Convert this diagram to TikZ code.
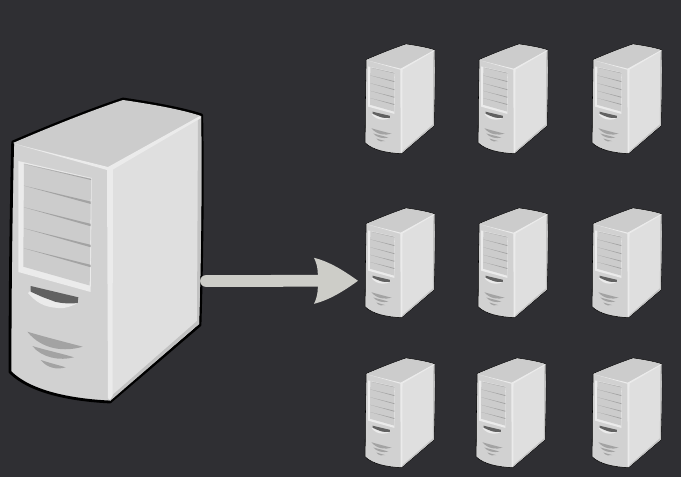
\documentclass[tikz,border=0pt]{standalone}
\usetikzlibrary{positioning,calc}
\definecolor{bgdark}{HTML}{2F2F33}
\definecolor{arrowgrey}{HTML}{CDCDC8}
\tikzset{
 pics/server/.style={code={
  % body with outline
  \draw[black,line width=#1,line join=round,fill=sfront] (12.7,142) .. controls (50,126) and (90,110) .. (123,99) .. controls (150,103) and (180,108) .. (201.7,115) .. controls (203,180) and (202,260) .. (200,325) -- (110,402) .. controls (70,400) and (30,392) .. (10,372) .. controls (10,290) and (11,210) .. (12.7,142) -- cycle;
  % top and side
  \fill[stop] (13,143) .. controls (50,127) and (90,111) .. (123,100) .. controls (150,104) and (180,109) .. (201,116) -- (108,168) -- cycle;
  \fill[sside] (108,168) -- (201,116) .. controls (202,180) and (201,260) .. (199,324) -- (110,400) -- cycle;
  \fill[sedge] (201,116) .. controls (202,180) and (201,260) .. (199,324) -- (197,322) -- (198,120) -- cycle;
  \fill[sedge] (199,324) -- (110,401) -- (109,398) -- (197,321) -- cycle;
  % highlights
  \fill[slight] (15,144) -- (108,167) -- (200,116) -- (201,118) -- (113,169.5) -- (112.5,396) -- (110,400) -- (108,398) -- (107,170) -- cycle;
  % drive bay
  \fill[slight] (18.3,161) -- (91.7,178) -- (90.7,292) -- (18.3,272) -- cycle;
  \fill[stop] (24,163.5) -- (91,178.5) -- (89.7,285.5) -- (23.3,266.7) -- cycle;
  \fill[svent] (24,164) -- (91,179) -- (91,180) -- cycle;
  \foreach \ya/\yb in {185.7/202.7,207.3/225,228.3/246,248.3/266}
   \fill[svent] (24,\ya) -- (90.5,\yb-1.2) -- (90.5,\yb+1.2) -- cycle;
  % slot
  \fill[slight] (28,293) .. controls (36,302) and (43,307) .. (58,308) .. controls (65,309) and (72,306) .. (78,303) -- (55,300) -- (31,290) -- cycle;
  \fill[sslot] (30.7,286) -- (78.3,297.3) -- (77.7,303) .. controls (68,304) and (60,303) .. (55,301.7) .. controls (48,299) and (45,298) .. (41.7,296.7) -- (30.7,291.7) -- cycle;
  % vents
  \fill[svent] (27.3,331.7) .. controls (45,337) and (65,342) .. (82.7,346.7) .. controls (65,352) and (42,350) .. (27.3,331.7) -- cycle;
  \fill[svent] (32.3,346) .. controls (45,350) and (60,353) .. (74,357.3) .. controls (60,361) and (42,358) .. (32.3,346) -- cycle;
  \fill[svent] (40.7,360) .. controls (50,363) and (58,365) .. (65.7,367.3) .. controls (57,370) and (47,368) .. (40.7,360) -- cycle;
  \coordinate (-out) at (206,281);
  \coordinate (-in) at (-10,300);
 }},
 sfront/.style={},
 stop/.style={fill=black!20},
 sside/.style={fill=black!12.5},
 sedge/.style={fill=black!24},
 slight/.style={fill=black!8},
 svent/.style={fill=black!36},
 sslot/.style={fill=black!62},
}
\colorlet{sfront}{black!18}
\begin{document}
\begin{tikzpicture}[x=0.02cm,y=-0.02cm]
\useasboundingbox (0,0) rectangle (681,477);
\fill[bgdark] (0,0) rectangle (681,477);
\pic (big) at (0,0) {server=1.6pt};
\foreach \xx/\yy/\nm in {361.6/8.2/ta,474.6/8.2/tb,588.6/8.2/tc,361.6/172.2/ma,474.6/172.2/mb,588.6/172.2/mc,361.6/322.2/ba,472.6/322.2/bb,588.6/322.2/bc}
 \pic[scale=0.362] (\nm) at (\xx,\yy) {server=0.3pt};
% connector
\coordinate (headup) at ($(ma-in)+(-44,-23)$);
\coordinate (headlow) at ($(ma-in)+(-44,23)$);
\coordinate (headback) at ($(ma-in)+(-40,0)$);
\draw[arrowgrey,line width=6.7pt,line cap=round] (big-out) -- (headback);
\fill[arrowgrey] (ma-in) .. controls +(-14,-10) and +(16,4) .. (headup) .. controls +(4,8) and +(0,-8) .. (headback) .. controls +(0,8) and +(4,-8) .. (headlow) .. controls +(16,-4) and +(-14,10) .. (ma-in) -- cycle;
\end{tikzpicture}
\end{document}
